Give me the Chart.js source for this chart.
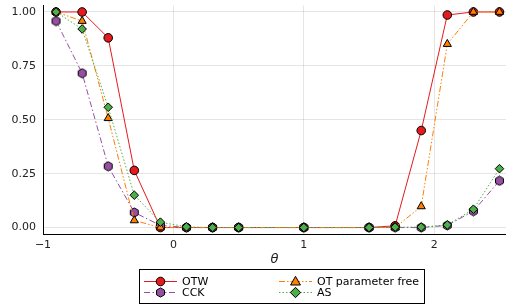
<!DOCTYPE html>
<html><head><meta charset="utf-8">
<script src="https://cdn.jsdelivr.net/npm/chart.js@4/dist/chart.umd.min.js"></script>
<style>html,body{margin:0;padding:0;background:#fff;}#wrap{width:506px;height:306px;}</style>
</head><body><div id="wrap"><canvas id="c" width="506" height="306"></canvas></div>
<script>
const theta = [-0.9,-0.7,-0.5,-0.3,-0.1,0.1,0.3,0.5,1.0,1.5,1.7,1.9,2.1,2.3,2.5];
const otw   = [1.0,1.0,0.88,0.265,0.0,0.0,0.0,0.0,0.0,0.0,0.008,0.45,0.986,1.0,1.0];
const cck   = [0.958,0.716,0.284,0.07,0.01,0.0,0.0,0.0,0.0,0.0,0.0,0.0,0.01,0.076,0.217];
const otpf  = [1.0,0.958,0.507,0.033,0.0,0.0,0.0,0.0,0.0,0.0,0.0,0.098,0.851,1.0,1.0];
const as    = [1.0,0.921,0.558,0.15,0.025,0.003,0.0,0.0,0.0,0.0,0.002,0.002,0.012,0.085,0.273];
const xTicks = [-1,0,1,2];
const yTicks = [0,0.25,0.5,0.75,1.0];
const seriesNames = ['OTW','CCK','OT parameter free','AS'];

const COL = {red:'#E41A1C', purple:'#984EA3', orange:'#FF7F00', green:'#4DAF4A'};

function hexImg(color){
  const c=document.createElement('canvas'); c.width=11; c.height=11;
  const g=c.getContext('2d'); g.beginPath();
  const r=4.6;
  for(let i=0;i<6;i++){const a=Math.PI/6+i*Math.PI/3; const x=5.5+r*Math.cos(a), y=5.5+r*Math.sin(a); i?g.lineTo(x,y):g.moveTo(x,y);}
  g.closePath(); g.fillStyle=color; g.fill(); g.lineWidth=1; g.strokeStyle='#000'; g.stroke();
  return c;
}
const hex = hexImg(COL.purple);

function mk(arr){return theta.map((t,i)=>({x:t,y:arr[i]}));}
const datasets = [
  {label:seriesNames[0], data:mk(otw), borderColor:COL.red, backgroundColor:COL.red, pointStyle:'circle', pointRadius:4.3, borderDash:[], order:3},
  {label:seriesNames[1], data:mk(cck), borderColor:COL.purple, backgroundColor:COL.purple, pointStyle:hex, pointRadius:4, borderDash:[6,2.5,1.5,2.5], order:2},
  {label:seriesNames[2], data:mk(otpf), borderColor:COL.orange, backgroundColor:COL.orange, pointStyle:'triangle', pointRadius:4.7, borderDash:[6,2,1.5,2,1.5,2], order:1},
  {label:seriesNames[3], data:mk(as), borderColor:COL.green, backgroundColor:COL.green, pointStyle:'rectRot', pointRadius:4.3, borderDash:[1.5,2], order:0}
].map(d=>Object.assign(d,{borderWidth:1, pointBorderColor:'#000', pointBackgroundColor:d.backgroundColor, pointBorderWidth:1, tension:0, fill:false, showLine:true}));

function drawMarker(ctx, style, color, x, y, r){
  ctx.save(); ctx.setLineDash([]); ctx.fillStyle=color; ctx.strokeStyle='#000'; ctx.lineWidth=1;
  if(style instanceof HTMLCanvasElement){ctx.drawImage(style,x-style.width/2,y-style.height/2); ctx.restore(); return;}
  ctx.beginPath();
  if(style==='circle'){ctx.arc(x,y,r,0,Math.PI*2);}
  else if(style==='triangle'){ctx.moveTo(x,y-r*1.1); ctx.lineTo(x+r*1.05,y+r*0.75); ctx.lineTo(x-r*1.05,y+r*0.75); ctx.closePath();}
  else if(style==='rectRot'){ctx.moveTo(x,y-r*1.2); ctx.lineTo(x+r*1.2,y); ctx.lineTo(x,y+r*1.2); ctx.lineTo(x-r*1.2,y); ctx.closePath();}
  ctx.fill(); ctx.stroke(); ctx.restore();
}

const legendPlugin = {
  id:'customLegend',
  afterDraw(chart){
    const ctx=chart.ctx;
    ctx.save();
    ctx.strokeStyle='#000'; ctx.lineWidth=1; ctx.setLineDash([]);
    ctx.strokeRect(139.5,269.5,285,34);
    const pos=[[144,281.5],[144,292.5],[279,281.5],[279,292.5]];
    datasets.forEach((d,i)=>{
      const [x,y]=pos[i];
      ctx.save(); ctx.strokeStyle=d.borderColor; ctx.lineWidth=1; ctx.setLineDash(d.borderDash);
      ctx.beginPath(); ctx.moveTo(x,y); ctx.lineTo(x+33,y); ctx.stroke(); ctx.restore();
      drawMarker(ctx,d.pointStyle,d.backgroundColor,x+16.5,y,d.pointRadius);
      ctx.fillStyle='#000'; ctx.font='11px "DejaVu Sans"'; ctx.textBaseline='middle'; ctx.textAlign='left';
      ctx.fillText(d.label,x+38,y+0.5);
    });
    ctx.restore();
  }
};

new Chart(document.getElementById('c'),{
  type:'scatter',
  data:{datasets},
  options:{
    responsive:false, animation:false, devicePixelRatio:1,
    layout:{autoPadding:false, padding:{left:0,right:0,top:5.5,bottom:39}},
    plugins:{legend:{display:false}, tooltip:{enabled:false}},
    scales:{
      x:{type:'linear', min:-1.0, max:2.55,
        afterBuildTicks:(s)=>{s.ticks=xTicks.map(v=>({value:v}));},
        afterFit:(s)=>{s.height=33; s.paddingLeft=0; s.paddingRight=0;},
        ticks:{callback:(v)=>String(v).replace('-','\u2212'), color:'#222', font:{family:'DejaVu Sans',size:11}, padding:2, maxRotation:0},
        grid:{color:'rgba(0,0,0,0.1)', lineWidth:1, tickLength:3, tickColor:'rgba(0,0,0,0)'},
        border:{color:'#000', width:1},
        title:{display:true, text:'θ', color:'#222', font:{family:'DejaVu Sans',size:13, style:'italic'}, padding:{top:0,bottom:0}}
      },
      y:{type:'linear', min:-0.03, max:1.03,
        afterBuildTicks:(s)=>{s.ticks=yTicks.map(v=>({value:v}));},
        afterFit:(s)=>{s.width=43; s.paddingTop=0; s.paddingBottom=0;},
        ticks:{callback:(v)=>Number(v).toFixed(2), color:'#222', font:{family:'DejaVu Sans',size:11}, padding:4},
        grid:{color:'rgba(0,0,0,0.1)', lineWidth:1, tickLength:3, tickColor:'rgba(0,0,0,0)'},
        border:{color:'#000', width:1}
      }
    }
  },
  plugins:[legendPlugin]
});
</script></body></html>
